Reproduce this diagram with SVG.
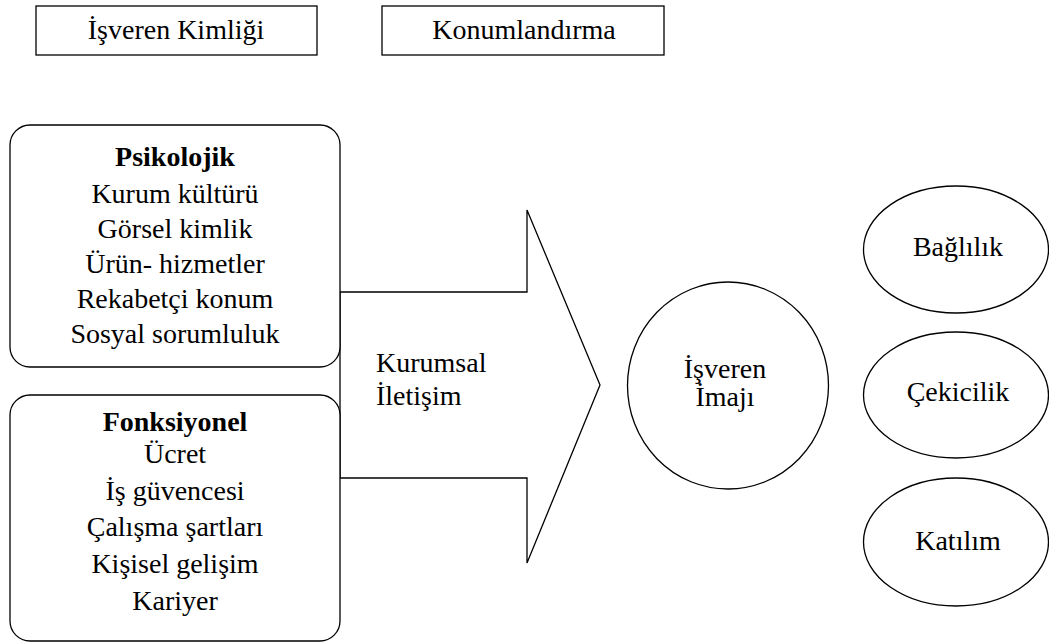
<svg xmlns="http://www.w3.org/2000/svg" width="1049" height="644" viewBox="0 0 1049 644" font-family="'Liberation Serif', 'Times New Roman', 'DejaVu Serif', serif">
<style>
.s{fill:#fff;stroke:#000;stroke-width:1.3}
text{font-family:"Liberation Serif","Times New Roman","DejaVu Serif",serif;font-size:28px;fill:#000}
.c{text-anchor:middle}
.b{font-weight:bold}
</style>
<rect width="1049" height="644" fill="#fff"/>
<g id="connectors">
<polygon class="s" points="340,292 527,292 527,210 600,385 527,563 527,478 340,478"/>
</g>
<g id="isveren-kimligi"><rect class="s" x="36" y="6" width="281" height="49"/><text class="c" x="176" y="39">İşveren Kimliği</text></g>
<g id="konumlandirma"><rect class="s" x="382" y="6" width="282" height="49"/><text class="c" x="524" y="39">Konumlandırma</text></g>
<g id="psikolojik"><rect class="s" x="10" y="125" width="330" height="242" rx="20"/>
<text class="c b" x="175" y="166">Psikolojik</text>
<text class="c" x="175" y="203">Kurum kültürü</text>
<text class="c" x="175" y="238">Görsel kimlik</text>
<text class="c" x="175" y="273">Ürün- hizmetler</text>
<text class="c" x="175" y="308">Rekabetçi konum</text>
<text class="c" x="175" y="343">Sosyal sorumluluk</text>
</g>
<g id="fonksiyonel"><rect class="s" x="10" y="395" width="330" height="246" rx="20"/>
<text class="c b" x="175" y="431">Fonksiyonel</text>
<text class="c" x="175" y="463">Ücret</text>
<text class="c" x="175" y="500">İş güvencesi</text>
<text class="c" x="175" y="536">Çalışma şartları</text>
<text class="c" x="175" y="573">Kişisel gelişim</text>
<text class="c" x="175" y="610">Kariyer</text>
</g>
<g id="kurumsal-iletisim"><text x="376" y="372">Kurumsal</text><text x="376" y="405">İletişim</text></g>
<g id="isveren-imaji"><ellipse class="s" cx="728" cy="385.5" rx="100.5" ry="103.5"/><text class="c" x="725" y="378">İşveren</text><text class="c" x="725" y="406">İmajı</text></g>
<g id="baglilik"><ellipse class="s" cx="956" cy="249.5" rx="92.5" ry="63.5"/><text class="c" x="958" y="256">Bağlılık</text></g>
<g id="cekicilik"><ellipse class="s" cx="956" cy="395" rx="92.5" ry="63"/><text class="c" x="958" y="401">Çekicilik</text></g>
<g id="katilim"><ellipse class="s" cx="956" cy="542" rx="92.5" ry="64"/><text class="c" x="958" y="550">Katılım</text></g>
</svg>
